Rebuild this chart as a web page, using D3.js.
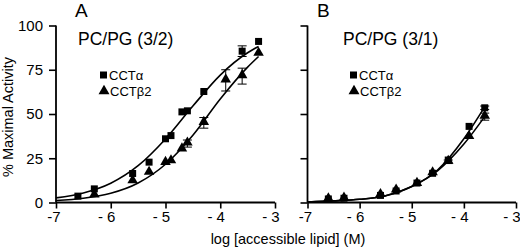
<!DOCTYPE html>
<html>
<head>
<meta charset="utf-8">
<script src="https://cdn.jsdelivr.net/npm/d3@7"></script>
<style>
  body { margin: 0; background: #fff; }
  svg { display: block; font-family: "Liberation Sans", Arial, sans-serif; }
  .tick text { font-family: "Liberation Sans Narrow", "Liberation Sans", Arial, sans-serif; font-size: 15px; }
</style>
</head>
<body>
<div id="chart"></div>
<script>
const width = 520;
const height = 251;

// x ticks are shared by both panels
const xTicks = [-7, -6, -5, -4, -3];
const xTickLabels = ["-7", "- 6", "- 5", "- 4", "- 3"];
const yTicks = [0, 25, 50, 75, 100];

// Panel A  PC/PG (3/2)
const aAlphaX = [-6.6, -6.3, -5.6, -5.3, -5.0, -4.9, -4.7, -4.6, -4.3, -3.6, -3.3];
const aAlphaY = [3.6, 7.7, 16.4, 22.8, 36, 37.8, 51.2, 51.8, 62.7, 85.5, 91];
const aAlphaErr = [0, 0, 0, 0, 0, 0, 0, 0, 0, 3, 0];
const aBetaX = [-6.3, -5.6, -5.3, -5.0, -4.9, -4.7, -4.6, -4.3, -3.9, -3.6, -3.3];
const aBetaY = [4, 12, 16.8, 22.4, 23.3, 30, 33.3, 45, 69, 71.4, 84];
const aBetaErr = [0, 0, 0, 0, 0, 0, 2, 3, 6, 4.5, 0];
// fitted curves
const aAlphaFitX = [-7, -6.5, -6, -5.5, -5, -4.5, -4, -3.5, -3.3];
const aAlphaFitY = [2.6, 5.4, 10.9, 20.8, 35.9, 54.5, 72, 84.6, 88.1];
const aBetaFitX = [-7, -6.5, -6, -5.5, -5, -4.5, -4, -3.5, -3.3];
const aBetaFitY = [1.1, 2.4, 5.2, 11, 21.6, 38, 58.5, 76.5, 82.5];

// Panel B  PC/PG (3/1)
const bAlphaX = [-6.6, -6.3, -5.6, -5.3, -4.9, -4.6, -4.3, -3.9, -3.6];
const bAlphaY = [2, 2.4, 4, 6.5, 11, 16.5, 24, 43, 53.5];
const bAlphaErr = [0, 0, 0, 0, 0, 0, 0, 0, 1];
const bBetaX = [-6.6, -6.3, -5.6, -5.3, -4.9, -4.6, -4.3, -3.9, -3.6];
const bBetaY = [1.8, 2.2, 4.2, 6.8, 10.5, 16.5, 23, 37, 48.5];
const bBetaErr = [0, 0, 0, 0, 0, 0, 1, 0, 2];
const bAlphaFitX = [-7, -6.5, -6, -5.5, -5, -4.5, -4, -3.6];
const bAlphaFitY = [0.3, 0.9, 1.8, 3.8, 9, 18.5, 36, 54];
const bBetaFitX = [-7, -6.5, -6, -5.5, -5, -4.5, -4, -3.6];
const bBetaFitY = [0.3, 0.9, 1.8, 3.8, 9, 18, 33, 48.5];

const zip = (xs, ys, es) => xs.map((x, i) => ({ x: x, y: ys[i], e: es ? es[i] : 0 }));

const panels = [
    {
        letter: "A", title: "PC/PG (3/2)", xRange: [56, 275], letterX: 75, titleX: 78, legendX: 100,
        showYLabels: true,
        alpha: zip(aAlphaX, aAlphaY, aAlphaErr), beta: zip(aBetaX, aBetaY, aBetaErr),
        alphaFit: zip(aAlphaFitX, aAlphaFitY), betaFit: zip(aBetaFitX, aBetaFitY)
    },
    {
        letter: "B", title: "PC/PG (3/1)", xRange: [307.5, 516], letterX: 317, titleX: 343, legendX: 350,
        showYLabels: false,
        alpha: zip(bAlphaX, bAlphaY, bAlphaErr), beta: zip(bBetaX, bBetaY, bBetaErr),
        alphaFit: zip(bAlphaFitX, bAlphaFitY), betaFit: zip(bBetaFitX, bBetaFitY)
    }
];

const svg = d3.select("#chart")
    .append("svg")
    .attr("width", width)
    .attr("height", height);

const y = d3.scaleLinear().domain([0, 100]).range([202.5, 25.5]);

panels.forEach((p) => {
    const x = d3.scaleLinear().domain([-7, -3]).range(p.xRange);
    const g = svg.append("g");

    // axes
    const xAxis = d3.axisBottom(x)
        .tickValues(xTicks)
        .tickFormat((d, i) => xTickLabels[i])
        .tickSize(6)
        .tickPadding(3);
    const yAxis = d3.axisLeft(y)
        .tickValues(yTicks)
        .tickSize(7)
        .tickPadding(6)
        .tickFormat(p.showYLabels ? d3.format("d") : "");

    const gx = g.append("g").attr("transform", `translate(0,${y(0)})`).call(xAxis);
    const gy = g.append("g").attr("transform", `translate(${p.xRange[0]},0)`).call(yAxis);
    [gx, gy].forEach((a) => {
        a.select(".domain").attr("stroke-width", 1.8).attr("d", a === gx
            ? `M${p.xRange[0]},0H${p.xRange[1]}`
            : `M0,${y(100)}V${y(0)}`);
        a.selectAll(".tick line").attr("stroke-width", 1.6);
        a.selectAll(".tick text").attr("fill", "#000");
    });
    // digit sits on the tick, the minus sign hangs to the left
    gx.selectAll(".tick text")
        .attr("text-anchor", "end")
        .attr("dx", 4.2);

    // fitted curves
    const line = d3.line()
        .x((d) => x(d.x))
        .y((d) => y(d.y))
        .curve(d3.curveMonotoneX);
    [p.alphaFit, p.betaFit].forEach((fit) => {
        g.append("path")
            .datum(fit)
            .attr("d", line)
            .attr("fill", "none")
            .attr("stroke", "#000")
            .attr("stroke-width", 1.6);
    });

    // error bars
    const withErr = p.alpha.concat(p.beta).filter((d) => d.e > 0);
    const eb = g.append("g").attr("stroke", "#000").attr("stroke-width", 1);
    eb.selectAll("line.v").data(withErr).join("line")
        .attr("x1", (d) => x(d.x)).attr("x2", (d) => x(d.x))
        .attr("y1", (d) => y(d.y + d.e)).attr("y2", (d) => y(d.y - d.e));
    eb.selectAll("line.t").data(withErr).join("line")
        .attr("x1", (d) => x(d.x) - 4.5).attr("x2", (d) => x(d.x) + 4.5)
        .attr("y1", (d) => y(d.y + d.e)).attr("y2", (d) => y(d.y + d.e));
    eb.selectAll("line.b").data(withErr).join("line")
        .attr("x1", (d) => x(d.x) - 4.5).attr("x2", (d) => x(d.x) + 4.5)
        .attr("y1", (d) => y(d.y - d.e)).attr("y2", (d) => y(d.y - d.e));

    // markers
    const square = d3.symbol(d3.symbolSquare, 49);
    const triangle = d3.symbol(d3.symbolTriangle, 48);
    g.append("g").selectAll("path").data(p.beta).join("path")
        .attr("d", triangle)
        .attr("transform", (d) => `translate(${x(d.x)},${y(d.y) - 1})`)
        .attr("fill", "#000");
    g.append("g").selectAll("path").data(p.alpha).join("path")
        .attr("d", square)
        .attr("transform", (d) => `translate(${x(d.x)},${y(d.y)})`)
        .attr("fill", "#000");

    // panel letter and title
    g.append("text").text(p.letter)
        .attr("x", p.letterX).attr("y", 17)
        .attr("font-size", 19);
    g.append("text").text(p.title)
        .attr("x", p.titleX).attr("y", 45)
        .attr("font-size", 17.5);

    // legend
    const lg = g.append("g").attr("transform", `translate(${p.legendX},0)`);
    lg.append("path").attr("d", square).attr("transform", "translate(3.5,75)");
    lg.append("text").text("CCTα").attr("x", 9).attr("y", 79.5).attr("font-size", 13);
    lg.append("path").attr("d", d3.symbol(d3.symbolTriangle, 52)).attr("transform", "translate(4,91)");
    lg.append("text").text("CCTβ2").attr("x", 10).attr("y", 96).attr("font-size", 13);
});

// axis titles
svg.append("text")
    .text("% Maximal Activity")
    .attr("transform", "translate(13,117) rotate(-90)")
    .attr("text-anchor", "middle")
    .attr("font-size", 14.5);

svg.append("text")
    .text("log [accessible lipid] (M)")
    .attr("x", 288).attr("y", 244)
    .attr("text-anchor", "middle")
    .attr("font-size", 14.5);
</script>
</body>
</html>
